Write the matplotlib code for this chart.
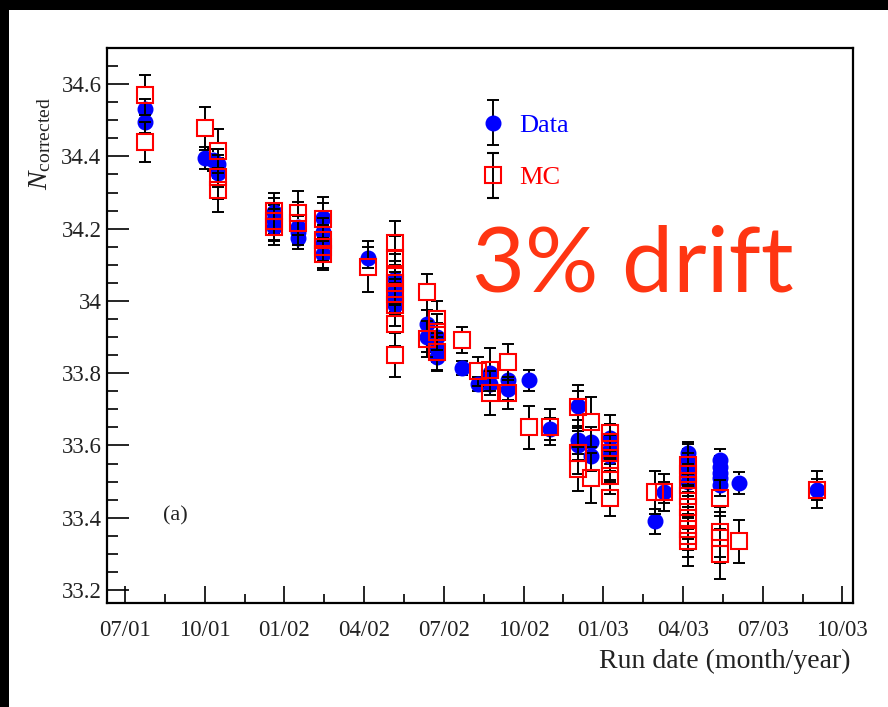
import numpy as np
import matplotlib
matplotlib.use("Agg")
import matplotlib.pyplot as plt
from matplotlib.patches import Rectangle
from matplotlib.ticker import MultipleLocator, FixedLocator
from matplotlib.container import ErrorbarContainer
from matplotlib.legend_handler import HandlerErrorbar

plt.rcParams['font.family'] = ['Liberation Serif', 'DejaVu Serif']
plt.rcParams['mathtext.fontset'] = 'custom'
plt.rcParams['mathtext.rm'] = 'Liberation Serif'
plt.rcParams['mathtext.it'] = 'Liberation Serif:italic'

# run dates in months since July 2001
data_month = [0.75, 0.75, 3.0, 3.3, 3.5, 3.5,
              5.6, 5.6, 5.6, 6.5, 6.5, 6.5,
              7.45, 7.45, 7.45, 7.45, 9.15,
              10.15, 10.15, 10.15, 10.15, 10.15,
              11.35, 11.35, 11.75, 11.75, 11.75,
              12.7, 13.3, 13.75, 13.75, 14.4, 14.4, 15.2, 16.0,
              17.05, 17.05, 17.05, 17.55, 17.55, 18.25, 18.25, 18.25,
              19.95, 20.3,
              21.2, 21.2, 21.2, 21.2, 21.2,
              22.4, 22.4, 22.4, 22.4, 22.4,
              23.1, 26.05]
data_val = [34.530, 34.495, 34.395, 34.390, 34.380, 34.355,
            34.245, 34.225, 34.205, 34.205, 34.190, 34.175,
            34.230, 34.190, 34.160, 34.130, 34.120,
            34.060, 34.030, 34.010, 34.000, 33.990,
            33.935, 33.900, 33.900, 33.870, 33.845,
            33.815, 33.770, 33.800, 33.770, 33.780, 33.755, 33.780, 33.645,
            33.710, 33.615, 33.600, 33.610, 33.570, 33.620, 33.590, 33.570,
            33.390, 33.470,
            33.580, 33.560, 33.540, 33.520, 33.500,
            33.560, 33.540, 33.525, 33.510, 33.490,
            33.496, 33.478]
data_err = [0.03, 0.03, 0.03, 0.03, 0.04, 0.04,
            0.04, 0.04, 0.04, 0.03, 0.03, 0.03,
            0.04, 0.04, 0.04, 0.04, 0.03,
            0.03, 0.03, 0.03, 0.03, 0.03,
            0.04, 0.04, 0.04, 0.04, 0.04,
            0.02, 0.02, 0.03, 0.03, 0.03, 0.03, 0.03, 0.03,
            0.04, 0.04, 0.04, 0.04, 0.04, 0.04, 0.04, 0.04,
            0.035, 0.03,
            0.03, 0.03, 0.03, 0.03, 0.03,
            0.03, 0.03, 0.03, 0.03, 0.03,
            0.03, 0.03]

mc_month = [0.75, 0.75, 3.0, 3.5, 3.5, 3.5,
            5.6, 5.6, 5.6, 6.5, 6.5,
            7.45, 7.45, 7.45, 7.45, 9.15,
            10.15, 10.15, 10.15, 10.15, 10.15, 10.15, 10.15, 10.15,
            11.35, 11.35, 11.75, 11.75, 11.75,
            12.7, 13.3, 13.75, 13.75, 14.4, 14.4, 15.2, 16.0,
            17.05, 17.05, 17.05, 17.55, 17.55,
            18.25, 18.25, 18.25, 18.25, 18.25, 18.25,
            19.95, 20.3,
            21.2, 21.2, 21.2, 21.2, 21.2, 21.2, 21.2, 21.2, 21.2,
            22.4, 22.4, 22.4, 22.4,
            23.1, 26.05]
mc_val = [34.570, 34.440, 34.478, 34.415, 34.343, 34.307,
          34.250, 34.220, 34.205, 34.243, 34.215,
          34.227, 34.170, 34.150, 34.130, 34.095,
          34.160, 34.120, 34.070, 34.050, 34.020, 33.990, 33.935, 33.850,
          34.025, 33.895, 33.950, 33.915, 33.860,
          33.892, 33.805, 33.810, 33.745, 33.830, 33.745, 33.650, 33.650,
          33.707, 33.580, 33.535, 33.665, 33.510,
          33.635, 33.610, 33.580, 33.550, 33.515, 33.455,
          33.470, 33.470,
          33.545, 33.520, 33.490, 33.460, 33.430, 33.400, 33.370, 33.350, 33.335,
          33.455, 33.360, 33.345, 33.300,
          33.335, 33.478]
mc_err = [0.055, 0.055, 0.06, 0.06, 0.06, 0.06,
          0.05, 0.05, 0.05, 0.06, 0.06,
          0.06, 0.06, 0.06, 0.045, 0.07,
          0.06, 0.06, 0.06, 0.06, 0.06, 0.06, 0.06, 0.06,
          0.05, 0.05, 0.05, 0.05, 0.05,
          0.035, 0.04, 0.06, 0.06, 0.05, 0.045, 0.06, 0.05,
          0.06, 0.06, 0.06, 0.07, 0.07,
          0.05, 0.05, 0.05, 0.05, 0.05, 0.05,
          0.06, 0.05,
          0.06, 0.06, 0.06, 0.06, 0.06, 0.06, 0.06, 0.06, 0.068,
          0.05, 0.07, 0.07, 0.07,
          0.06, 0.05]

tick_months = [0, 3, 6, 9, 12, 15, 18, 21, 24, 27]
tick_labels = ['07/01', '10/01', '01/02', '04/02', '07/02',
               '10/02', '01/03', '04/03', '07/03', '10/03']

fig = plt.figure(figsize=(8.88, 7.07), dpi=100, facecolor='black')
# white canvas inside the black border
fig.patches.append(Rectangle((9 / 888, 0), 1, 697 / 707, transform=fig.transFigure,
                             facecolor='white', edgecolor='none', zorder=-10))

ax = fig.add_axes([107 / 888, 104 / 707, 746 / 888, 555 / 707])
ax.set_facecolor('white')

ymin, ymax = 33.164, 34.70
gap = 0.021  # bars stop short of the marker, ROOT style


def draw_points(x, y, err, z, **mk):
    x, y, err = np.asarray(x), np.asarray(y), np.asarray(err)
    lo = np.maximum(err, gap)
    ax.vlines(x, y + gap, y + lo, color='black', lw=1.4, zorder=z)
    ax.vlines(x, y - lo, y - gap, color='black', lw=1.4, zorder=z)
    ax.plot(x, y + err, ls='none', marker='_', ms=8, mew=1.4, color='black', zorder=z)
    ax.plot(x, y - err, ls='none', marker='_', ms=8, mew=1.4, color='black', zorder=z)
    ax.plot(x, y, ls='none', zorder=z + 0.5, **mk)


data_style = dict(marker='o', color='blue', markersize=10.5)
mc_style = dict(marker='s', markerfacecolor='none', markeredgecolor='red',
                markeredgewidth=1.5, markersize=11)

draw_points(data_month, data_val, data_err, 2, **data_style)
draw_points(mc_month, mc_val, mc_err, 3, **mc_style)

# legend entries with error bars (nan points, nothing drawn on the axes)
data_h = ax.errorbar([np.nan], [np.nan], yerr=[0.03], fmt='o', color='blue',
                     markersize=10.5, ecolor='black', elinewidth=1.4, capsize=4,
                     capthick=1.4, label='Data')
mc_h = ax.errorbar([np.nan], [np.nan], yerr=[0.05], fmt='s', markerfacecolor='none',
                   markeredgecolor='red', markeredgewidth=1.5, markersize=11,
                   ecolor='black', elinewidth=1.4, capsize=4, capthick=1.4, label='MC')

ax.set_xlim(-0.68, 27.4)
ax.set_ylim(ymin, ymax)
ax.xaxis.set_major_locator(FixedLocator(tick_months))
ax.set_xticklabels(tick_labels)
ax.xaxis.set_minor_locator(MultipleLocator(1.5))
ax.yaxis.set_major_locator(MultipleLocator(0.2))
ax.yaxis.set_minor_locator(MultipleLocator(0.05))
ax.yaxis.set_major_formatter(plt.FuncFormatter(lambda v, p: ('%.1f' % v).rstrip('0').rstrip('.')))

ax.tick_params(axis='both', which='both', direction='in', top=False, right=False,
               labelsize=16.5, labelcolor='#222222', width=1.2)
ax.tick_params(axis='y', which='major', length=16, pad=4)
ax.tick_params(axis='y', which='minor', length=8)
ax.tick_params(axis='x', which='major', length=12, pad=12)
ax.tick_params(axis='x', which='minor', length=6.5)
for s in ax.spines.values():
    s.set_linewidth(1.6)

ax.text(0.996, -0.106, 'Run date (month/year)', transform=ax.transAxes,
        ha='right', va='center', fontsize=20, color='#222222')
ax.text(-0.09, 0.912, r'$N_{\rm corrected}$', transform=ax.transAxes,
        rotation=90, ha='center', va='top', fontsize=20, color='#222222')
ax.text(0.075, 0.148, '(a)', transform=ax.transAxes, ha='left', va='baseline',
        fontsize=16, color='#222222')

ax.text(0.705, 0.562, '3% drift', transform=ax.transAxes, ha='center',
        va='baseline', fontsize=66, color='#ff3512', family=['Lato', 'DejaVu Sans'])

leg = ax.legend(handles=[data_h, mc_h], loc='upper left', bbox_to_anchor=(0.468, 0.925),
                frameon=False, fontsize=19, handlelength=1.0, labelspacing=1.1,
                handletextpad=0.5,
                handler_map={ErrorbarContainer: HandlerErrorbar(xerr_size=0.3, yerr_size=0.85)})
for txt, c in zip(leg.get_texts(), ['blue', 'red']):
    txt.set_color(c)

fig.savefig('out.png', dpi=100, facecolor='black')
